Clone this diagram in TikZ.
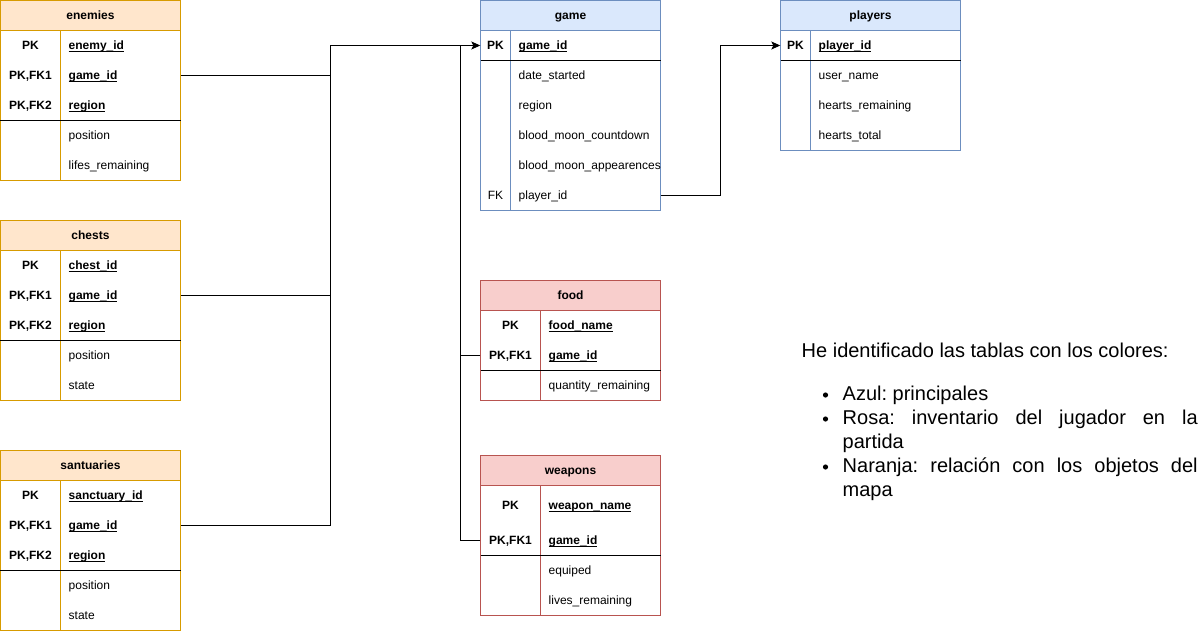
\documentclass[tikz,border=0pt]{standalone}
\usepackage{fontspec}
\setmainfont{Liberation Sans}
\usetikzlibrary{arrows.meta}
\frenchspacing
\definecolor{ofill}{HTML}{FFE6CC}
\definecolor{ostroke}{HTML}{D79B00}
\definecolor{bfill}{HTML}{DAE8FC}
\definecolor{bstroke}{HTML}{6C8EBF}
\definecolor{rfill}{HTML}{F8CECC}
\definecolor{rstroke}{HTML}{B85450}
\newcommand\cellL[2]{\makebox[#1][l]{\hspace{8pt}#2}}
\newcommand\pkn[1]{\setbox0=\hbox{\bfseries #1}\rlap{\rule[-1.9pt]{\wd0}{0.9pt}}\box0}
\tikzset{
  x=1pt, y=-1pt,
  tbl/.style={font=\fontsize{12}{14.4}\selectfont, text height=10.9pt, text depth=2.5pt, inner sep=0pt},
  hdr/.style={tbl, font=\fontsize{12}{14.4}\selectfont\bfseries, draw=#1, line width=1pt, minimum height=30pt},
  frame/.style={draw=#1, line width=1pt},
  sepline/.style={draw=black, line width=1pt},
  kcell/.style={tbl, font=\fontsize{12}{14.4}\selectfont\bfseries, minimum height=30pt},
  kcellr/.style={tbl, minimum height=30pt},
  ncell/.style={tbl, anchor=west, minimum height=30pt},
  conn/.style={draw=black, line width=1pt},
  arr/.style={-{Stealth[length=9pt,width=8pt,inset=2pt]}},
  note/.style={font=\fontsize{20}{24}\selectfont, inner sep=0pt, anchor=base west},
}
\begin{document}
\begin{tikzpicture}
\useasboundingbox (-0.5,-0.5) rectangle (1200.5,630.5);
\fill[white] (-0.5,-0.5) rectangle (1200.5,630.5);

% ---------- enemies ----------
\draw[frame=ostroke] (0,30) rectangle (180,180);
\draw[frame=ostroke] (60,30) -- (60,180);
\node[hdr=ostroke, fill=ofill, minimum width=180pt] (en) at (90,15) {enemies};
\node[kcell, minimum width=60pt] (en-k1) at (30,45) {PK};
\node[ncell] (en-n1) at (60,45) {\cellL{120pt}{\pkn{enemy\_id}}};
\node[kcell, minimum width=60pt] (en-k2) at (30,75) {PK,FK1};
\node[ncell] (en-n2) at (60,75) {\cellL{120pt}{\pkn{game\_id}}};
\node[kcell, minimum width=60pt] (en-k3) at (30,105) {PK,FK2};
\node[ncell] (en-n3) at (60,105) {\cellL{120pt}{\pkn{region}}};
\node[ncell] (en-n4) at (60,135) {\cellL{120pt}{position}};
\node[ncell] (en-n5) at (60,165) {\cellL{120pt}{lifes\_remaining}};
\draw[sepline] (0,120) -- (180,120);

% ---------- chests ----------
\draw[frame=ostroke] (0,250) rectangle (180,400);
\draw[frame=ostroke] (60,250) -- (60,400);
\node[hdr=ostroke, fill=ofill, minimum width=180pt] (ch) at (90,235) {chests};
\node[kcell, minimum width=60pt] (ch-k1) at (30,265) {PK};
\node[ncell] (ch-n1) at (60,265) {\cellL{120pt}{\pkn{chest\_id}}};
\node[kcell, minimum width=60pt] (ch-k2) at (30,295) {PK,FK1};
\node[ncell] (ch-n2) at (60,295) {\cellL{120pt}{\pkn{game\_id}}};
\node[kcell, minimum width=60pt] (ch-k3) at (30,325) {PK,FK2};
\node[ncell] (ch-n3) at (60,325) {\cellL{120pt}{\pkn{region}}};
\node[ncell] (ch-n4) at (60,355) {\cellL{120pt}{position}};
\node[ncell] (ch-n5) at (60,385) {\cellL{120pt}{state}};
\draw[sepline] (0,340) -- (180,340);

% ---------- santuaries ----------
\draw[frame=ostroke] (0,480) rectangle (180,630);
\draw[frame=ostroke] (60,480) -- (60,630);
\node[hdr=ostroke, fill=ofill, minimum width=180pt] (sa) at (90,465) {santuaries};
\node[kcell, minimum width=60pt] (sa-k1) at (30,495) {PK};
\node[ncell] (sa-n1) at (60,495) {\cellL{120pt}{\pkn{sanctuary\_id}}};
\node[kcell, minimum width=60pt] (sa-k2) at (30,525) {PK,FK1};
\node[ncell] (sa-n2) at (60,525) {\cellL{120pt}{\pkn{game\_id}}};
\node[kcell, minimum width=60pt] (sa-k3) at (30,555) {PK,FK2};
\node[ncell] (sa-n3) at (60,555) {\cellL{120pt}{\pkn{region}}};
\node[ncell] (sa-n4) at (60,585) {\cellL{120pt}{position}};
\node[ncell] (sa-n5) at (60,615) {\cellL{120pt}{state}};
\draw[sepline] (0,570) -- (180,570);

% ---------- game ----------
\draw[frame=bstroke] (480,30) rectangle (660,210);
\draw[frame=bstroke] (510,30) -- (510,210);
\node[hdr=bstroke, fill=bfill, minimum width=180pt] (gm) at (570,15) {game};
\node[kcell, minimum width=30pt] (gm-k1) at (495,45) {PK};
\node[ncell] (gm-n1) at (510,45) {\cellL{150pt}{\pkn{game\_id}}};
\node[ncell] (gm-n2) at (510,75) {\cellL{150pt}{date\_started}};
\node[ncell] (gm-n3) at (510,105) {\cellL{150pt}{region}};
\node[ncell] (gm-n4) at (510,135) {\cellL{150pt}{blood\_moon\_countdown}};
\node[ncell] (gm-n5) at (510,165) {\cellL{150pt}{blood\_moon\_appearences}};
\node[kcellr, minimum width=30pt] (gm-k6) at (495,195) {FK};
\node[ncell] (gm-n6) at (510,195) {\cellL{150pt}{player\_id}};
\draw[sepline] (480,60) -- (660,60);

% ---------- players ----------
\draw[frame=bstroke] (780,30) rectangle (960,150);
\draw[frame=bstroke] (810,30) -- (810,150);
\node[hdr=bstroke, fill=bfill, minimum width=180pt] (pl) at (870,15) {players};
\node[kcell, minimum width=30pt] (pl-k1) at (795,45) {PK};
\node[ncell] (pl-n1) at (810,45) {\cellL{150pt}{\pkn{player\_id}}};
\node[ncell] (pl-n2) at (810,75) {\cellL{150pt}{user\_name}};
\node[ncell] (pl-n3) at (810,105) {\cellL{150pt}{hearts\_remaining}};
\node[ncell] (pl-n4) at (810,135) {\cellL{150pt}{hearts\_total}};
\draw[sepline] (780,60) -- (960,60);

% ---------- food ----------
\draw[frame=rstroke] (480,310) rectangle (660,400);
\draw[frame=rstroke] (540,310) -- (540,400);
\node[hdr=rstroke, fill=rfill, minimum width=180pt] (fd) at (570,295) {food};
\node[kcell, minimum width=60pt] (fd-k1) at (510,325) {PK};
\node[ncell] (fd-n1) at (540,325) {\cellL{120pt}{\pkn{food\_name}}};
\node[kcell, minimum width=60pt] (fd-k2) at (510,355) {PK,FK1};
\node[ncell] (fd-n2) at (540,355) {\cellL{120pt}{\pkn{game\_id}}};
\node[ncell] (fd-n3) at (540,385) {\cellL{120pt}{quantity\_remaining}};
\draw[sepline] (480,370) -- (660,370);

% ---------- weapons ----------
\draw[frame=rstroke] (480,485) rectangle (660,615);
\draw[frame=rstroke] (540,485) -- (540,615);
\node[hdr=rstroke, fill=rfill, minimum width=180pt] (wp) at (570,470) {weapons};
\node[kcell, minimum width=60pt] (wp-k1) at (510,505) {PK};
\node[ncell] (wp-n1) at (540,505) {\cellL{120pt}{\pkn{weapon\_name}}};
\node[kcell, minimum width=60pt] (wp-k2) at (510,540) {PK,FK1};
\node[ncell] (wp-n2) at (540,540) {\cellL{120pt}{\pkn{game\_id}}};
\node[ncell] (wp-n3) at (540,570) {\cellL{120pt}{equiped}};
\node[ncell] (wp-n4) at (540,600) {\cellL{120pt}{lives\_remaining}};
\draw[sepline] (480,555) -- (660,555);

% ---------- connectors ----------
\coordinate (j1) at (330,45);
\coordinate (j2) at (460,45);
\coordinate (j3) at (720,45);
\draw[conn, arr] (en-n2.east) -| (j1) -- (gm-k1.west);
\draw[conn] (ch-n2.east) -| (j1);
\draw[conn] (sa-n2.east) -| (j1);
\draw[conn] (fd-k2.west) -| (j2);
\draw[conn] (wp-k2.west) -| (j2);
\draw[conn, arr] (gm-n6.east) -| (j3) -- (pl-k1.west);

% ---------- note ----------
\node[note] (t0) at (801,357) {He identificado las tablas con los colores:};
\fill (825,394.5) circle (2.6);
\node[note] (t1) at (842,400) {Azul: principales};
\fill (825,418.5) circle (2.6);
\node[note] (t2) at (842,424) {\hbox to 355pt{Rosa: inventario del jugador en la}};
\node[note] (t3) at (842,448) {partida};
\fill (825,466.5) circle (2.6);
\node[note] (t4) at (842,472) {\hbox to 355pt{Naranja: relación con los objetos del}};
\node[note] (t5) at (842,496) {mapa};
\end{tikzpicture}
\end{document}
